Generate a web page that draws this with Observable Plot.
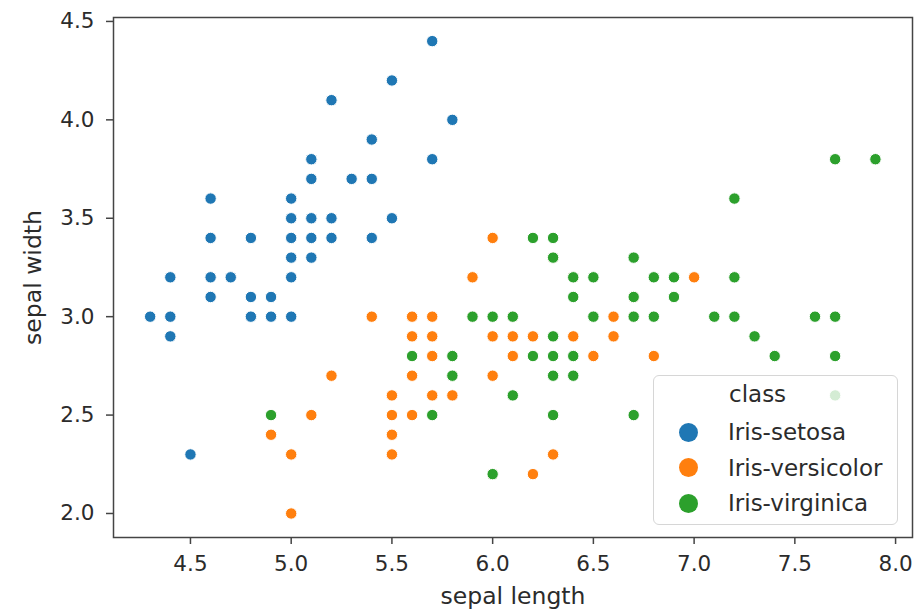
<!DOCTYPE html>
<html>
<head>
<meta charset="utf-8">
<script src="https://cdn.jsdelivr.net/npm/d3@7"></script>
<script src="https://cdn.jsdelivr.net/npm/@observablehq/plot@0.6"></script>
<style>
  html, body { margin: 0; padding: 0; background: #fff; }
  #wrap { position: relative; width: 920px; height: 610px; font-family: "DejaVu Sans", sans-serif; }
  #legend { position: absolute; left: 653px; top: 375px; width: 245px; height: 150px;
    box-sizing: border-box; border: 1px solid #d6d6d6; border-radius: 6px;
    background: rgba(255,255,255,0.8); color: #2b2b2b; font-size: 23px; }
  #legend .row { position: absolute; left: 0; height: 30px; line-height: 30px; white-space: nowrap; }
  #legend .sw { position: absolute; left: 24.5px; top: 5.5px; width: 19px; height: 19px; border-radius: 50%; }
  #legend .lab { position: absolute; left: 74px; top: 0; }
</style>
</head>
<body>
<div id="wrap"><div id="chart"></div><div id="legend"></div></div>
<script>
const classes = ["Iris-setosa", "Iris-versicolor", "Iris-virginica"];
const colors = ["#1f77b4", "#ff7f0e", "#2ca02c"];
const xTicks = [4.5, 5.0, 5.5, 6.0, 6.5, 7.0, 7.5, 8.0];
const yTicks = [2.0, 2.5, 3.0, 3.5, 4.0, 4.5];

const setosaLength = [5.1,4.9,4.7,4.6,5.0,5.4,4.6,5.0,4.4,4.9,5.4,4.8,4.8,4.3,5.8,5.7,5.4,5.1,5.7,5.1,5.4,5.1,4.6,5.1,4.8,5.0,5.0,5.2,5.2,4.7,4.8,5.4,5.2,5.5,4.9,5.0,5.5,4.9,4.4,5.1,5.0,4.5,4.4,5.0,5.1,4.8,5.1,4.6,5.3,5.0];
const setosaWidth  = [3.5,3.0,3.2,3.1,3.6,3.9,3.4,3.4,2.9,3.1,3.7,3.4,3.0,3.0,4.0,4.4,3.9,3.5,3.8,3.8,3.4,3.7,3.6,3.3,3.4,3.0,3.4,3.5,3.4,3.2,3.1,3.4,4.1,4.2,3.1,3.2,3.5,3.1,3.0,3.4,3.5,2.3,3.2,3.5,3.8,3.0,3.8,3.2,3.7,3.3];
const versicolorLength = [7.0,6.4,6.9,5.5,6.5,5.7,6.3,4.9,6.6,5.2,5.0,5.9,6.0,6.1,5.6,6.7,5.6,5.8,6.2,5.6,5.9,6.1,6.3,6.1,6.4,6.6,6.8,6.7,6.0,5.7,5.5,5.5,5.8,6.0,5.4,6.0,6.7,6.3,5.6,5.5,5.5,6.1,5.8,5.0,5.6,5.7,5.7,6.2,5.1,5.7];
const versicolorWidth  = [3.2,3.2,3.1,2.3,2.8,2.8,3.3,2.4,2.9,2.7,2.0,3.0,2.2,2.9,2.9,3.1,3.0,2.7,2.2,2.5,3.2,2.8,2.5,2.8,2.9,3.0,2.8,3.0,2.9,2.6,2.4,2.4,2.7,2.7,3.0,3.4,3.1,2.3,3.0,2.5,2.6,3.0,2.6,2.3,2.7,3.0,2.9,2.9,2.5,2.8];
const virginicaLength = [6.3,5.8,7.1,6.3,6.5,7.6,4.9,7.3,6.7,7.2,6.5,6.4,6.8,5.7,5.8,6.4,6.5,7.7,7.7,6.0,6.9,5.6,7.7,6.3,6.7,7.2,6.2,6.1,6.4,7.2,7.4,7.9,6.4,6.3,6.1,7.7,6.3,6.4,6.0,6.9,6.7,6.9,5.8,6.8,6.7,6.7,6.3,6.5,6.2,5.9];
const virginicaWidth  = [3.3,2.7,3.0,2.9,3.0,3.0,2.5,2.9,2.5,3.6,3.2,2.7,3.0,2.5,2.8,3.2,3.0,3.8,2.6,2.2,3.2,2.8,2.8,2.7,3.3,3.2,2.8,3.0,2.8,3.0,2.8,3.8,2.8,2.8,2.6,3.0,3.4,3.1,3.0,3.1,3.1,3.1,2.7,3.2,3.3,3.0,2.5,3.0,3.4,3.0];

const groups = [
  [classes[0], setosaLength, setosaWidth],
  [classes[1], versicolorLength, versicolorWidth],
  [classes[2], virginicaLength, virginicaWidth]
];
const data = groups.flatMap(([cls, L, W]) => L.map((l, i) => ({cls, length: l, width: W[i]})));

const axisColor = "#444";
const textColor = "#2b2b2b";

const chart = Plot.plot({
  width: 920,
  height: 610,
  marginLeft: 113,
  marginRight: 8,
  marginTop: 17,
  marginBottom: 73,
  style: {fontFamily: "DejaVu Sans, sans-serif", background: "#fff", color: textColor},
  x: {domain: [4.118, 8.084]},
  y: {domain: [1.878, 4.52]},
  color: {domain: classes, range: colors},
  marks: [
    Plot.dot(data, {x: "length", y: "width", fill: "cls", r: 5.7, stroke: "#fff", strokeWidth: 1}),
    Plot.frame({stroke: axisColor, strokeWidth: 1.5}),
    Plot.axisX({ticks: xTicks, tickFormat: d3.format(".1f"), tickSize: 7, tickPadding: 11,
      stroke: axisColor, strokeWidth: 1.5, fontSize: 21.5, fill: textColor,
      label: "sepal length", labelAnchor: "center", labelArrow: "none", labelOffset: 66}),
    Plot.axisY({ticks: yTicks, tickFormat: d3.format(".1f"), tickSize: 7, tickPadding: 12,
      stroke: axisColor, strokeWidth: 1.5, fontSize: 21.5, fill: textColor,
      label: "sepal width", labelAnchor: "center", labelArrow: "none", labelOffset: 89})
  ]
});
document.getElementById("chart").appendChild(chart);
// bigger axis titles
chart.querySelectorAll("g[aria-label='x-axis label'] text, g[aria-label='y-axis label'] text")
  .forEach(t => t.setAttribute("font-size", "23.5"));

// legend
const legend = document.getElementById("legend");
const title = document.createElement("div");
title.className = "row";
title.style.top = "3px";
title.innerHTML = '<span class="lab" style="left:75px">class</span>';
legend.appendChild(title);
classes.forEach((c, i) => {
  const row = document.createElement("div");
  row.className = "row";
  row.style.top = (41 + i * 35.5) + "px";
  const sw = document.createElement("span");
  sw.className = "sw";
  sw.style.background = colors[i];
  const lab = document.createElement("span");
  lab.className = "lab";
  lab.textContent = c;
  row.appendChild(sw);
  row.appendChild(lab);
  legend.appendChild(row);
});
</script>
</body>
</html>
